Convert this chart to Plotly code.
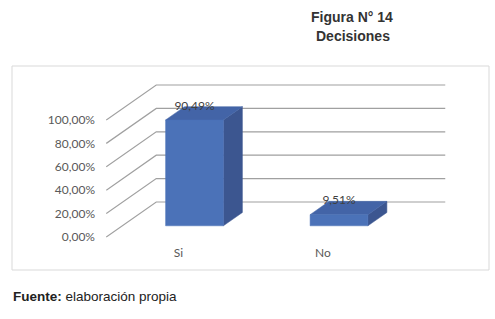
import plotly.graph_objects as go

# ---- data ----
categories = ["Si", "No"]
values = [0.9049, 0.0951]
tick_values = [0.0, 0.2, 0.4, 0.6, 0.8, 1.0]
title_lines = ["Figura N° 14", "Decisiones"]
source_bold = "Fuente:"
source_text = "elaboración propia"

# ---- geometry (pixels) ----
W, H = 495, 319
PL, PR, PT, PB = 106, 470, 70, 244          # plot area
X0PX, CAT_PX = 178.5, 144.5                  # px of category 0 (front plane), px per category
Y0PX, PCT_PX = 237.0, 117.0                  # px of 0% (front plane), px per 100%
DEPTH_DX_PX, DEPTH_DY_PX = 50.0, 35.0        # oblique depth offset of back wall
PW, PH = PR - PL, PB - PT

xr = [(PL - X0PX) / CAT_PX, (PR - X0PX) / CAT_PX]
yr = [(Y0PX - PB) / PCT_PX, (Y0PX - PT) / PCT_PX]
DX = DEPTH_DX_PX / CAT_PX
DY = DEPTH_DY_PX / PCT_PX
D0, D1 = 0.32, 0.70          # bar depth range (fraction of depth)
HALF = 0.2                   # half bar width in category units
WALL_L, WALL_R = -0.5, 1.5

FRONT = "#4b72b8"
TOP = "#4364a7"
SIDE = "#3c5690"
GRID = "#a0a0a0"

def px_x(p):
    return (p - PL) / PW

def px_y(p):
    return (PB - p) / PH

fig = go.Figure()

# back wall gridlines + diagonals
for t in tick_values:
    fig.add_trace(go.Scatter(
        x=[WALL_L, WALL_L + DX, WALL_R + DX],
        y=[t, t + DY, t + DY],
        mode="lines", line=dict(color=GRID, width=1.2),
        hoverinfo="skip", showlegend=False))

# bars
for i, v in enumerate(values):
    c = i
    fl = c - HALF + D0 * DX
    fr = c + HALF + D0 * DX
    fb = D0 * DY
    ft = v + D0 * DY
    ox = (D1 - D0) * DX
    oy = (D1 - D0) * DY
    # side face
    fig.add_trace(go.Scatter(
        x=[fr, fr + ox, fr + ox, fr, fr], y=[fb, fb + oy, ft + oy, ft, fb],
        fill="toself", fillcolor=SIDE, mode="lines",
        line=dict(color=SIDE, width=0.5), hoverinfo="skip", showlegend=False))
    # top face
    fig.add_trace(go.Scatter(
        x=[fl, fr, fr + ox, fl + ox, fl], y=[ft, ft, ft + oy, ft + oy, ft],
        fill="toself", fillcolor=TOP, mode="lines",
        line=dict(color=TOP, width=0.5), hoverinfo="skip", showlegend=False))
    # front face
    fig.add_trace(go.Scatter(
        x=[fl, fr, fr, fl, fl], y=[fb, fb, ft, ft, fb],
        fill="toself", fillcolor=FRONT, mode="lines",
        line=dict(color=FRONT, width=0.5), hoverinfo="skip", showlegend=False))

# data labels
fig.add_trace(go.Scatter(
    x=[i + D0 * DX for i in range(len(values))],
    y=[v + D1 * DY for v in values],
    customdata=values,
    mode="text", texttemplate="%{customdata:.2%}",
    textposition="middle center",
    textfont=dict(family="Lato", size=12, color="#404040"),
    hoverinfo="skip", showlegend=False))

fig.update_layout(
    width=W, height=H,
    margin=dict(l=PL, r=W - PR, t=PT, b=H - PB),
    paper_bgcolor="white", plot_bgcolor="white",
    separators=",.",
    xaxis=dict(range=xr, tickvals=[0, 1], ticktext=categories,
               showgrid=False, zeroline=False, showline=False, ticks="",
               ticklabelstandoff=0,
               tickfont=dict(family="Lato", size=12, color="#595959"),
               fixedrange=True),
    yaxis=dict(range=yr, tickvals=tick_values, tickformat=".2%",
               showgrid=False, zeroline=False, showline=False, ticks="",
               ticklabelstandoff=10,
               tickfont=dict(family="Lato", size=12, color="#595959"),
               fixedrange=True),
    shapes=[dict(type="rect", xref="paper", yref="paper",
                 x0=px_x(12), x1=px_x(489), y0=px_y(270), y1=px_y(66),
                 line=dict(color="#d9d9d9", width=1), layer="below")],
    annotations=[
        dict(text="<b>%s</b>" % title_lines[0], xref="paper", yref="paper",
             x=px_x(352), y=px_y(17), xanchor="center", yanchor="middle",
             showarrow=False,
             font=dict(family="Liberation Sans", size=14, color="#333333")),
        dict(text="<b>%s</b>" % title_lines[1], xref="paper", yref="paper",
             x=px_x(353), y=px_y(36), xanchor="center", yanchor="middle",
             showarrow=False,
             font=dict(family="Liberation Sans", size=14, color="#333333")),
        dict(text="<b>%s</b> %s" % (source_bold, source_text),
             xref="paper", yref="paper",
             x=px_x(11), y=px_y(296), xanchor="left", yanchor="middle",
             showarrow=False,
             font=dict(family="Liberation Sans", size=13.5, color="#222222")),
    ],
)

fig.write_html("out.html", config={"displayModeBar": False},
               post_script="document.body.style.margin='0';document.body.style.overflow='hidden';")
